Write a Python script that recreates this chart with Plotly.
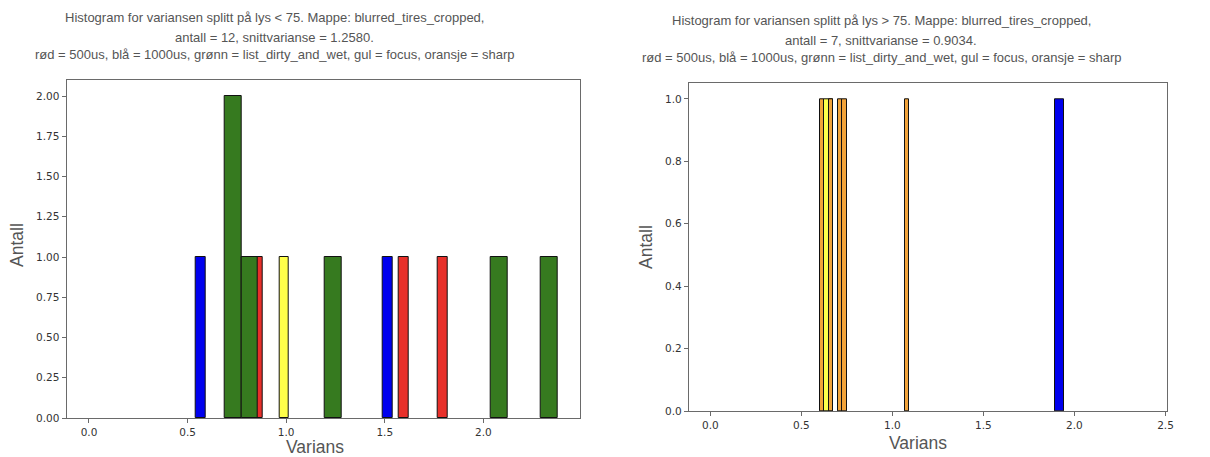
import plotly.graph_objects as go

W, H = 1210, 457

# ---- data: histogram bins (left edge, right edge, count) per group ----
# left panel: lys < 75
l_red_lo = [0.833, 1.573, 1.770]
l_red_hi = [0.882, 1.622, 1.819]
l_red_n = [1, 1, 1]

l_blue_lo = [0.542, 1.488]
l_blue_hi = [0.592, 1.538]
l_blue_n = [1, 1]

l_green_lo = [0.689, 0.773, 1.195, 2.039, 2.292]
l_green_hi = [0.773, 0.858, 1.280, 2.123, 2.376]
l_green_n = [2, 1, 1, 1, 1]

l_yellow_lo = [0.965]
l_yellow_hi = [1.015]
l_yellow_n = [1]

# right panel: lys > 75
r_blue_lo = [1.893]
r_blue_hi = [1.943]
r_blue_n = [1]

r_yellow_lo = [0.626]
r_yellow_hi = [0.676]
r_yellow_n = [1]

r_orange_lo = [0.602, 0.651, 0.700, 0.725, 1.068]
r_orange_hi = [0.627, 0.676, 0.725, 0.749, 1.092]
r_orange_n = [1, 1, 1, 1, 1]

left_xticks = [0.0, 0.5, 1.0, 1.5, 2.0]
left_yticks = [0.0, 0.25, 0.5, 0.75, 1.0, 1.25, 1.5, 1.75, 2.0]
right_xticks = [0.0, 0.5, 1.0, 1.5, 2.0, 2.5]
right_yticks = [0.0, 0.2, 0.4, 0.6, 0.8, 1.0]

left_title = [
    "Histogram for variansen splitt på lys < 75. Mappe: blurred_tires_cropped,",
    "antall = 12, snittvarianse = 1.2580.",
    "rød = 500us, blå = 1000us, grønn = list_dirty_and_wet, gul = focus, oransje = sharp",
]
right_title = [
    "Histogram for variansen splitt på lys > 75. Mappe: blurred_tires_cropped,",
    "antall = 7, snittvarianse = 0.9034.",
    "rød = 500us, blå = 1000us, grønn = list_dirty_and_wet, gul = focus, oransje = sharp",
]

COL = {
    "red": "#e8302a",
    "blue": "#0000ee",
    "green": "#367a1f",
    "yellow": "#ffff4a",
    "orange": "#f2a33a",
}

fig = go.Figure()


def add_hist(lo, hi, n, color, xa, ya):
    fig.add_trace(go.Bar(
        x=[(a + b) / 2 for a, b in zip(lo, hi)],
        width=[b - a for a, b in zip(lo, hi)],
        y=n,
        marker=dict(color=color, line=dict(color="#111111", width=1)),
        xaxis=xa, yaxis=ya, showlegend=False,
    ))


# drawing order: rød, blå, grønn, gul, oransje
add_hist(l_red_lo, l_red_hi, l_red_n, COL["red"], "x", "y")
add_hist(l_blue_lo, l_blue_hi, l_blue_n, COL["blue"], "x", "y")
add_hist(l_green_lo, l_green_hi, l_green_n, COL["green"], "x", "y")
add_hist(l_yellow_lo, l_yellow_hi, l_yellow_n, COL["yellow"], "x", "y")

add_hist(r_blue_lo, r_blue_hi, r_blue_n, COL["blue"], "x2", "y2")
add_hist(r_yellow_lo, r_yellow_hi, r_yellow_n, COL["yellow"], "x2", "y2")
add_hist(r_orange_lo, r_orange_hi, r_orange_n, COL["orange"], "x2", "y2")

tickfont = dict(family="DejaVu Sans", size=10.5, color="#333333")
axis_common = dict(
    showgrid=False, zeroline=False, showline=True, linecolor="#6a6a6a",
    linewidth=1.3, mirror=True, ticks="outside", ticklen=4, tickcolor="#6a6a6a",
    tickfont=tickfont, automargin=False,
)

fig.update_layout(
    width=W, height=H,
    margin=dict(l=0, r=0, t=0, b=0, autoexpand=False),
    paper_bgcolor="white", plot_bgcolor="white",
    barmode="overlay", bargap=0,
    xaxis=dict(domain=[66.7 / W, 580 / W], anchor="y", range=[-0.113, 2.49],
               tickvals=left_xticks, ticktext=[f"{v:.1f}" for v in left_xticks],
               **axis_common),
    yaxis=dict(domain=[1 - 418 / H, 1 - 80 / H], anchor="x", range=[0, 2.1],
               tickvals=left_yticks, ticktext=[f"{v:.2f}" for v in left_yticks],
               **axis_common),
    xaxis2=dict(domain=[689 / W, 1167.3 / W], anchor="y2", range=[-0.117, 2.51],
                tickvals=right_xticks, ticktext=[f"{v:.1f}" for v in right_xticks],
                **axis_common),
    yaxis2=dict(domain=[1 - 411 / H, 1 - 83.3 / H], anchor="x2", range=[0, 1.05],
                tickvals=right_yticks, ticktext=[f"{v:.1f}" for v in right_yticks],
                **axis_common),
)

title_font = dict(family="Liberation Sans", size=13, color="#555555")
label_font = dict(family="Liberation Sans", size=17.5, color="#555555")

anns = []
for txt, py in zip(left_title, [18, 37, 55]):
    anns.append(dict(text=txt, x=274 / W, y=1 - py / H, xref="paper", yref="paper",
                     xanchor="center", yanchor="middle", showarrow=False, font=title_font))
for txt, py in zip(right_title, [21, 40, 58]):
    anns.append(dict(text=txt, x=881 / W, y=1 - py / H, xref="paper", yref="paper",
                     xanchor="center", yanchor="middle", showarrow=False, font=title_font))

anns += [
    dict(text="Varians", x=315 / W, y=1 - 446.5 / H, xref="paper", yref="paper",
         xanchor="center", yanchor="middle", showarrow=False, font=label_font),
    dict(text="Antall", x=17 / W, y=1 - 245 / H, xref="paper", yref="paper",
         xanchor="center", yanchor="middle", showarrow=False, textangle=-90, font=label_font),
    dict(text="Varians", x=918 / W, y=1 - 443 / H, xref="paper", yref="paper",
         xanchor="center", yanchor="middle", showarrow=False, font=label_font),
    dict(text="Antall", x=646 / W, y=1 - 247 / H, xref="paper", yref="paper",
         xanchor="center", yanchor="middle", showarrow=False, textangle=-90, font=label_font),
]
fig.update_layout(annotations=anns)

fig.write_html("out.html")
